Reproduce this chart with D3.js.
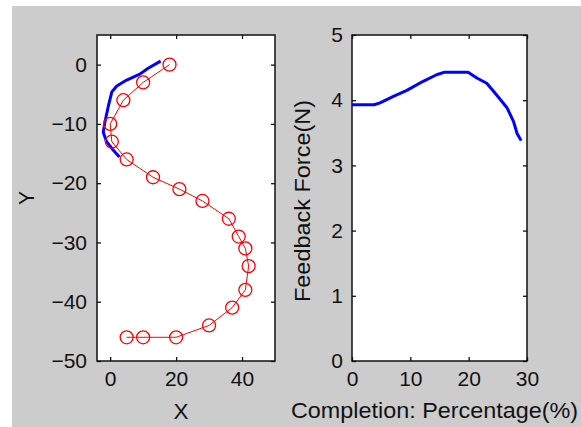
<!DOCTYPE html>
<html>
<head>
<meta charset="utf-8">
<script src="https://cdn.jsdelivr.net/npm/d3@7"></script>
<style>
  body { margin: 0; background: #fff; }
  text { font-family: "Liberation Sans", Arial, Helvetica, sans-serif; fill: #111; }
</style>
</head>
<body>
<script>
// target path (red circles)
const pathX = [18, 10, 4, 0, 0.5, 5, 13, 21, 28, 36, 39, 41, 42, 41, 37, 30, 20, 10, 5];
const pathY = [0, -3, -6, -10, -13, -16, -19, -21, -23, -26, -29, -31, -34, -38, -41, -44, -46, -46, -46];
// actual trajectory (blue)
const trajX = [15.3, 11.5, 9, 5, 2, 0.5, -0.6, -1.6, -2.1, -1.1, 0.9, 2.8];
const trajY = [0.6, -0.6, -1.6, -2.6, -3.6, -4.6, -7.1, -9.7, -11.4, -13, -14.4, -15.6];
// feedback force vs completion
const completion = [0, 3.8, 4.8, 7.1, 9.4, 12.2, 14.5, 15.9, 19.9, 21.4, 23.1, 24.8, 26.6, 27.7, 28.3, 29];
const force = [3.93, 3.93, 3.96, 4.06, 4.15, 4.29, 4.39, 4.43, 4.43, 4.34, 4.26, 4.08, 3.88, 3.67, 3.49, 3.38];

const xTicksL = [0, 20, 40], yTicksL = [-50, -40, -30, -20, -10, 0];
const xTicksR = [0, 10, 20, 30], yTicksR = [0, 1, 2, 3, 4, 5];

const W = 581, H = 427;
const svg = d3.select("body").append("svg").attr("width", W).attr("height", H);
svg.append("rect").attr("x", 12).attr("y", 6).attr("width", W - 12).attr("height", H - 6).attr("fill", "#cccccc");

function makeAxes(box, xDomain, yDomain, xTicks, yTicks, xLabel, yLabel) {
    let x = d3.scaleLinear().domain(xDomain).range([box.left, box.right]);
    let y = d3.scaleLinear().domain(yDomain).range([box.bottom, box.top]);
    let fmt = d3.format("d");
    svg.append("rect").attr("x", box.left).attr("y", box.top)
        .attr("width", box.right - box.left).attr("height", box.bottom - box.top)
        .attr("fill", "#fff");

    let g = svg.append("g");
    // bottom / left with labels
    g.append("g").attr("transform", "translate(0," + box.bottom + ")")
        .call(d3.axisBottom(x).tickValues(xTicks).tickFormat(fmt).tickSize(-4).tickSizeOuter(0).tickPadding(10))
    g.append("g").attr("transform", "translate(" + box.left + ",0)")
        .call(d3.axisLeft(y).tickValues(yTicks).tickFormat(fmt).tickSize(-4).tickSizeOuter(0).tickPadding(box.ypad))
    // top / right ticks only
    g.append("g").attr("transform", "translate(0," + box.top + ")")
        .call(d3.axisTop(x).tickValues(xTicks).tickSize(-4).tickSizeOuter(0).tickFormat(""))
    g.append("g").attr("transform", "translate(" + box.right + ",0)")
        .call(d3.axisRight(y).tickValues(yTicks).tickSize(-4).tickSizeOuter(0).tickFormat(""))
    g.selectAll(".domain").remove()
    g.selectAll(".tick line").attr("stroke", "#111").attr("stroke-width", 1.3)
    g.selectAll(".tick text").attr("font-size", 21).attr("font-family", null).attr("fill", "#111")

    svg.append("rect").attr("x", box.left).attr("y", box.top)
        .attr("width", box.right - box.left).attr("height", box.bottom - box.top)
        .attr("fill", "none").attr("stroke", "#111").attr("stroke-width", 1.5);

    svg.append("text").attr("x", xLabel.x).attr("y", xLabel.y)
        .attr("text-anchor", "middle").attr("font-size", 22)
        .attr("textLength", xLabel.len).attr("lengthAdjust", "spacingAndGlyphs")
        .text(xLabel.text);
    svg.append("text").attr("transform", "translate(" + yLabel.x + "," + yLabel.y + ") rotate(-90)")
        .attr("text-anchor", "middle").attr("font-size", 22)
        .attr("textLength", yLabel.len).attr("lengthAdjust", "spacingAndGlyphs")
        .text(yLabel.text);
    return { x: x, y: y };
}

// left: trajectory
let L = makeAxes({ left: 97, right: 275, top: 35, bottom: 361, ypad: 10 },
    [-4, 50], [-50, 5], xTicksL, yTicksL,
    { x: 181, y: 419, text: "X", len: 15 },
    { x: 34, y: 198, text: "Y", len: 14 });

let lineL = d3.line().x(function (d) { return L.x(d[0]); }).y(function (d) { return L.y(d[1]); });
let traj = trajX.map(function (v, i) { return [v, trajY[i]]; });
let target = pathX.map(function (v, i) { return [v, pathY[i]]; });

svg.append("path").datum(traj).attr("d", lineL)
    .attr("fill", "none").attr("stroke", "#0000ff").attr("stroke-width", 3)
    .attr("stroke-linejoin", "round");
svg.append("path").datum(target).attr("d", lineL)
    .attr("fill", "none").attr("stroke", "#ff0000").attr("stroke-width", 1);
svg.selectAll("circle.target").data(target).enter().append("circle")
    .attr("class", "target")
    .attr("cx", function (d) { return L.x(d[0]); })
    .attr("cy", function (d) { return L.y(d[1]); })
    .attr("r", 6.5)
    .attr("fill", "none").attr("stroke", "#ff0000").attr("stroke-width", 1.3);

// right: feedback force
let R = makeAxes({ left: 352, right: 527, top: 35, bottom: 361, ypad: 9 },
    [0, 30], [0, 5], xTicksR, yTicksR,
    { x: 434.5, y: 418, text: "Completion: Percentage(%)", len: 287 },
    { x: 310, y: 201, text: "Feedback Force(N)", len: 202 });

let lineR = d3.line().x(function (d) { return R.x(d[0]); }).y(function (d) { return R.y(d[1]); });
svg.append("path").datum(completion.map(function (v, i) { return [v, force[i]]; }))
    .attr("d", lineR)
    .attr("fill", "none").attr("stroke", "#0000ff").attr("stroke-width", 3)
    .attr("stroke-linejoin", "round");
</script>
</body>
</html>
